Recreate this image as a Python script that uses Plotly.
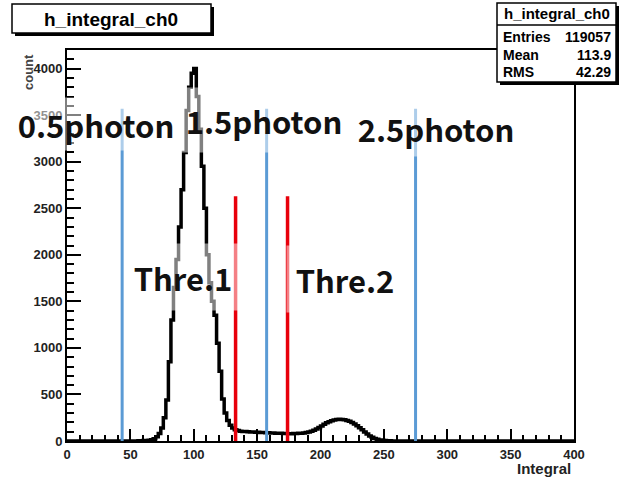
import plotly.graph_objects as go

# ---- histogram h_integral_ch0 (bin width 2, counts per bin) ----
bin_width = 2
first_edge = 56
counts = [
    2, 3, 5, 6, 8, 14, 25, 45, 80, 140,           # 56 - 74
    250, 440, 850, 1300, 1650, 1950, 2300, 2700,  # 76 - 90
    3100, 3550, 3800, 3950, 4000, 3700, 3350,     # 92 - 104
    2950, 2500, 2000, 1700, 1500, 1350, 1050,     # 106 - 118
    750, 450, 300, 220, 170, 140, 122, 112,       # 120 - 134
    106, 103, 101, 99, 98, 96, 95, 93, 92, 90,    # 136 - 154
    89, 88, 86, 85, 84, 82, 82, 80, 80, 79,       # 156 - 174
    79, 80, 80, 82, 84, 86, 90, 96, 104, 115,     # 176 - 194
    128, 145, 162, 180, 195, 208, 218, 226, 231,  # 196 - 212
    233, 232, 228, 221, 211, 198, 182, 163, 142,  # 214 - 230
    120, 97, 75, 55, 39, 27, 18, 12, 8, 5,        # 232 - 250
    3, 2, 1, 1,                                   # 252 - 258
]
x_min, x_max = 0, 400
y_min, y_max = 0, 4200

# photon-number boundaries (blue) and thresholds (red)
photon_x = [43.5, 157.5, 275.0]
photon_top = 3570
photon_labels = ["0.5photon", "1.5photon", "2.5photon"]
thre_x = [133.0, 174.0]
thre_top = 2630
thre_labels = ["Thre.1", "Thre.2"]

stat_title = "h_integral_ch0"
stat_rows = [("Entries", "119057"), ("Mean", "113.9"), ("RMS", "42.29")]

# ---- build step outline over the full axis range ----
lead = (first_edge - x_min) // bin_width
tail = (x_max - first_edge) // bin_width - len(counts)
all_counts = [0] * lead + counts + [0] * tail
edges = [x_min + i * bin_width for i in range(len(all_counts) + 1)]
step_x = edges
step_y = all_counts + [all_counts[-1]]

W, H = 619, 483
L, R, T, B = 67, 574, 50, 441


def px(x):
    return (x - L) / (R - L)


def py(y):
    return (B - y) / (B - T)


fig = go.Figure()

fig.add_trace(go.Scatter(
    x=step_x, y=step_y, mode="lines", line_shape="hv",
    line=dict(color="black", width=3.5), hoverinfo="skip", showlegend=False,
))

for xv in photon_x:
    fig.add_trace(go.Scatter(
        x=[xv, xv], y=[0, photon_top], mode="lines",
        line=dict(color="#5b9bd5", width=3), showlegend=False, hoverinfo="skip",
    ))
for xv in thre_x:
    fig.add_trace(go.Scatter(
        x=[xv, xv], y=[0, thre_top], mode="lines",
        line=dict(color="#e8000b", width=3.5), showlegend=False, hoverinfo="skip",
    ))

tickfont = dict(family="Liberation Sans, Arial", size=13, color="#222", weight="bold")

fig.update_xaxes(
    range=[x_min, x_max], dtick=50, tick0=0,
    showline=True, linecolor="black", linewidth=2, mirror=True,
    ticks="inside", ticklen=12, tickwidth=1.5, tickcolor="black",
    minor=dict(dtick=10, ticks="inside", ticklen=6, tickwidth=1.5, tickcolor="black"),
    showgrid=False, zeroline=False, tickfont=tickfont,
)
fig.update_yaxes(
    range=[y_min, y_max], dtick=500, tick0=0,
    showline=True, linecolor="black", linewidth=2, mirror=True,
    ticks="inside", ticklen=14, tickwidth=1.5, tickcolor="black",
    minor=dict(dtick=100, ticks="inside", ticklen=7, tickwidth=1.5, tickcolor="black"),
    showgrid=False, zeroline=False, tickfont=tickfont,
)

shapes = []
annotations = []

# title box with shadow
shapes.append(dict(type="rect", xref="paper", yref="paper",
                   x0=px(15), x1=px(214), y0=py(7), y1=py(36),
                   fillcolor="black", line=dict(width=0)))
shapes.append(dict(type="rect", xref="paper", yref="paper",
                   x0=px(12), x1=px(211), y0=py(4), y1=py(33),
                   fillcolor="white", line=dict(color="black", width=1.5)))
annotations.append(dict(xref="paper", yref="paper", x=px(111), y=py(19),
                        text="h_integral_ch0", showarrow=False,
                        xanchor="center", yanchor="middle",
                        font=dict(family="Liberation Sans, Arial", size=19,
                                  color="black", weight="bold")))

# statistics box with shadow
shapes.append(dict(type="rect", xref="paper", yref="paper",
                   x0=px(500), x1=px(619), y0=py(6), y1=py(85),
                   fillcolor="black", line=dict(width=0)))
shapes.append(dict(type="rect", xref="paper", yref="paper",
                   x0=px(497), x1=px(616), y0=py(3), y1=py(82),
                   fillcolor="white", line=dict(color="black", width=1.5)))
shapes.append(dict(type="line", xref="paper", yref="paper",
                   x0=px(497), x1=px(616), y0=py(25), y1=py(25),
                   line=dict(color="black", width=1.5)))
statfont = dict(family="Liberation Sans, Arial", size=14, color="black", weight="bold")
annotations.append(dict(xref="paper", yref="paper", x=px(557), y=py(14),
                        text=stat_title, showarrow=False,
                        xanchor="center", yanchor="middle",
                        font=dict(family="Liberation Sans, Arial", size=15,
                                  color="black", weight="bold")))
for i, (name, val) in enumerate(stat_rows):
    yy = py(37 + i * 17.5)
    annotations.append(dict(xref="paper", yref="paper", x=px(501), y=yy,
                            text=name, showarrow=False, xanchor="left",
                            yanchor="middle", font=statfont))
    annotations.append(dict(xref="paper", yref="paper", x=px(613), y=yy,
                            text=val, showarrow=False, xanchor="right",
                            yanchor="middle", font=statfont))

# axis titles
annotations.append(dict(xref="paper", yref="paper", x=px(29), y=py(72),
                        text="count", textangle=-90, showarrow=False,
                        xanchor="center", yanchor="middle",
                        font=dict(family="Liberation Sans, Arial", size=13,
                                  color="#444", weight="bold")))
annotations.append(dict(xref="paper", yref="paper", x=px(573), y=py(468),
                        text="Integral", showarrow=False,
                        xanchor="right", yanchor="middle",
                        font=dict(family="Liberation Sans, Arial", size=15,
                                  color="#222", weight="bold")))

# large labels with translucent backing
bigfont = dict(family="Noto Sans CJK JP", size=31, color="#111", weight="bold")
veil = "rgba(255,255,255,0.5)"
photon_boxes = [(96, 124, 170, 52), (264, 120, 164, 64), (436, 128, 166, 56)]
for label, (cx, cy, w, h) in zip(photon_labels, photon_boxes):
    annotations.append(dict(xref="paper", yref="paper", x=px(cx), y=py(cy),
                            text=label, showarrow=False, xanchor="center",
                            yanchor="middle", width=w, height=h,
                            bgcolor=veil, borderpad=0, font=bigfont))
thre_boxes = [(183, 277, 112, 66), (345, 279, 116, 66)]
for label, (cx, cy, w, h) in zip(thre_labels, thre_boxes):
    annotations.append(dict(xref="paper", yref="paper", x=px(cx), y=py(cy),
                            text=label, showarrow=False, xanchor="center",
                            yanchor="middle", width=w, height=h,
                            bgcolor=veil, borderpad=0, font=bigfont))

fig.update_layout(
    width=W, height=H,
    margin=dict(l=L, r=W - R, t=T, b=H - B),
    paper_bgcolor="white", plot_bgcolor="white",
    shapes=shapes, annotations=annotations, showlegend=False,
)

fig.write_html("out.html")
